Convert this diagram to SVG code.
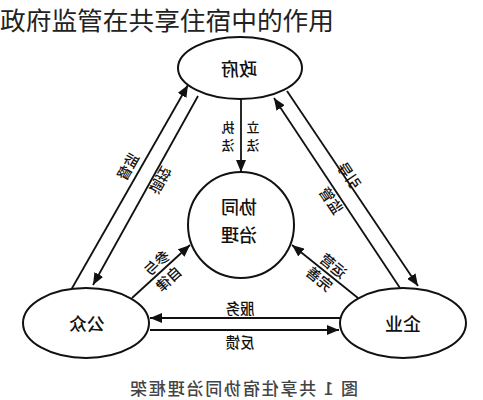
<svg xmlns="http://www.w3.org/2000/svg" width="483" height="400" viewBox="0 0 483 400">
<style>
.n{fill:#fff;stroke:#111;stroke-width:2}
.c{stroke:#111;stroke-width:1.8;fill:none;marker-end:url(#ah)}
.t{font-family:"Noto Sans CJK SC","Noto Sans",sans-serif;fill:#111;text-anchor:middle;dominant-baseline:central}
.big{font-size:18px;font-weight:500}
.sm{font-size:14.5px;font-weight:500}
.v{font-size:13px;font-weight:500}
</style>
<defs>
<marker id="ah" viewBox="0 0 12 10" refX="12" refY="5" markerWidth="12" markerHeight="10" markerUnits="userSpaceOnUse" orient="auto"><path d="M0,0 L12,5 L0,10 z" fill="#111"/></marker>
</defs>
<rect width="483" height="400" fill="#fff"/>
<text x="0" y="30" font-family="'Noto Sans CJK SC',sans-serif" font-size="25.5" fill="#222" textLength="334" lengthAdjust="spacingAndGlyphs">政府监管在共享住宿中的作用</text>
<g id="connectors">
<line class="c" x1="241" y1="99" x2="241" y2="172"/>
<line class="c" x1="71" y1="290" x2="188" y2="85"/>
<line class="c" x1="198" y1="96" x2="93" y2="285"/>
<line class="c" x1="287" y1="91" x2="418" y2="286"/>
<line class="c" x1="400" y1="288" x2="274" y2="98"/>
<line class="c" x1="132" y1="298" x2="190" y2="245"/>
<line class="c" x1="358" y1="298" x2="292" y2="245"/>
<line class="c" x1="340" y1="318" x2="150" y2="318"/>
<line class="c" x1="150" y1="330" x2="339" y2="330"/>
<text class="t v" transform="translate(228,126) scale(-1,1)">执</text>
<text class="t v" transform="translate(228,144) scale(-1,1)">法</text>
<text class="t v" transform="translate(253,126) scale(-1,1)">立</text>
<text class="t v" transform="translate(253,144) scale(-1,1)">法</text>
<text class="t sm" transform="translate(127,166) scale(-1,1) rotate(60.3)">监督</text>
<text class="t sm" transform="translate(161,181) scale(-1,1) rotate(-119.7)">调控</text>
<text class="t sm" transform="translate(350,175) scale(-1,1) rotate(-56.1)">引导</text>
<text class="t sm" transform="translate(332,200) scale(-1,1) rotate(-56.1)">监管</text>
<text class="t sm" transform="translate(156,262) scale(-1,1) rotate(42.4)">参与</text>
<text class="t sm" transform="translate(168,278) scale(-1,1) rotate(42.4)">自律</text>
<text class="t sm" transform="translate(334,265) scale(-1,1) rotate(-38.8)">运营</text>
<text class="t sm" transform="translate(320,278) scale(-1,1) rotate(-38.8)">完善</text>
<text class="t sm" transform="translate(240,307) scale(-1,1)">服务</text>
<text class="t sm" transform="translate(240,341) scale(-1,1)">反馈</text>
</g>
<g id="gov">
<ellipse class="n" cx="240" cy="68" rx="62" ry="31"/>
<text class="t big" transform="translate(239,68) scale(-1,1)">政府</text>
</g>
<g id="center">
<circle class="n" cx="241" cy="225" r="53"/>
<text class="t big" transform="translate(239,206) scale(-1,1)">协同</text>
<text class="t big" transform="translate(239,234) scale(-1,1)">治理</text>
</g>
<g id="public">
<ellipse class="n" cx="86" cy="323" rx="63" ry="35"/>
<text class="t big" transform="translate(87,323) scale(-1,1)">公众</text>
</g>
<g id="enterprise">
<ellipse class="n" cx="403" cy="323" rx="63" ry="35"/>
<text class="t big" transform="translate(403,323) scale(-1,1)">企业</text>
</g>
<g id="caption">
<text class="t" font-size="17" style="fill:#444;font-weight:500" transform="translate(244,387) scale(-1,1)" textLength="228" lengthAdjust="spacing">图 1  共享住宿协同治理框架</text>
</g>
</svg>
